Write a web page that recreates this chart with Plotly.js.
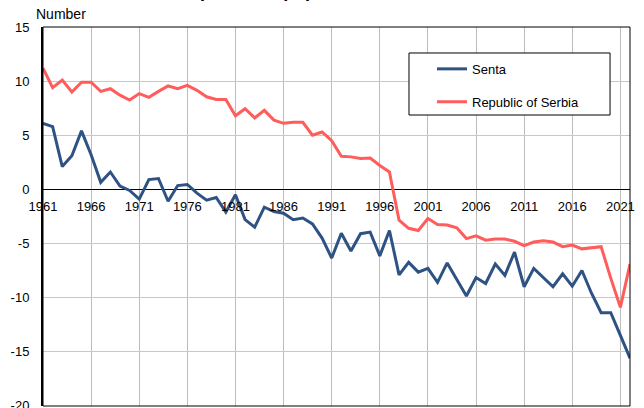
<!DOCTYPE html>
<html>
<head>
<meta charset="utf-8">
<script src="https://cdn.plot.ly/plotly-3.0.1.min.js"></script>
<style>html,body{margin:0;padding:0;background:#fff;}#chart{width:644px;height:408px;}</style>
</head>
<body>
<div id="chart"></div>
<script>
const years = [];
for (let y = 1961; y <= 2022; y++) years.push(y);

const senta = [
  6.1, 5.8, 2.1, 3.1, 5.4, 3.2, 0.65, 1.6, 0.3, -0.1,
  -0.9, 0.9, 1.0, -1.1, 0.35, 0.45, -0.35, -1.0, -0.75, -2.1,
  -0.5, -2.8, -3.5, -1.65, -2.05, -2.2, -2.8, -2.65, -3.2, -4.5,
  -6.35, -4.05, -5.7, -4.1, -3.95, -6.15, -3.8, -7.9, -6.75, -7.65,
  -7.3, -8.6, -6.8, -8.3, -9.85, -8.15, -8.7, -6.9, -7.95, -5.8,
  -9.0, -7.3, -8.15, -9.0, -7.8, -8.95, -7.5, -9.6, -11.4, -11.4,
  -13.5, -15.6
];

const serbia = [
  11.2, 9.4, 10.1, 9.0, 9.9, 9.9, 9.05, 9.3, 8.7, 8.25,
  8.85, 8.5, 9.05, 9.55, 9.3, 9.6, 9.15, 8.55, 8.3, 8.3,
  6.8, 7.45, 6.6, 7.3, 6.4, 6.1, 6.2, 6.2, 5.0, 5.3,
  4.5, 3.05, 3.0, 2.85, 2.9, 2.2, 1.6, -2.85, -3.6, -3.8,
  -2.7, -3.25, -3.3, -3.55, -4.55, -4.3, -4.7, -4.6, -4.6, -4.8,
  -5.2, -4.87, -4.75, -4.87, -5.3, -5.15, -5.5, -5.4, -5.3, -8.2,
  -10.9, -6.9
];

const seriesNames = ["Senta", "Republic of Serbia"];
const yTickVals = [-20, -15, -10, -5, 0, 5, 10, 15];
const yTickText = ["-20", "-15", "-10", "-5", "0", "5", "10", "15"];
const xTickVals = [1961, 1966, 1971, 1976, 1981, 1986, 1991, 1996, 2001, 2006, 2011, 2016, 2021];
const titleText = "Natural increase per 1,000 population, 1961–2022";
const yAxisLabel = "Number";

const FONT = "Liberation Sans, Arial, sans-serif";

const traces = [
  {x: years, y: senta, name: seriesNames[0], type: "scatter", mode: "lines",
   line: {color: "#2e5283", width: 3}, legendgroup: "a"},
  {x: years, y: serbia, name: seriesNames[1], type: "scatter", mode: "lines",
   line: {color: "#ff5c5c", width: 3}, legendgroup: "b"}
];

const layout = {
  width: 644, height: 408,
  margin: {l: 43, r: 14, t: 27, b: 2, pad: 0},
  paper_bgcolor: "#ffffff", plot_bgcolor: "#ffffff",
  font: {family: FONT, size: 13, color: "#000"},
  showlegend: true,
  legend: {
    x: 0.6627, y: 0.929, xanchor: "left", yanchor: "top",
    bgcolor: "rgba(0,0,0,0)", borderwidth: 0,
    traceorder: "grouped", tracegroupgap: 13,
    font: {family: FONT, size: 13, color: "#000"}
  },
  xaxis: {
    range: [1961, 2022], tickmode: "array", tickvals: xTickVals,
    anchor: "free", position: 0.573,
    showgrid: true, gridcolor: "#bcbcbc", gridwidth: 1,
    zeroline: false, showline: false,
    ticks: "outside", ticklen: 6, tickcolor: "rgba(0,0,0,0)",
    ticklabeloverflow: "allow",
    tickfont: {family: FONT, size: 13, color: "#000"}
  },
  yaxis: {
    range: [-20.02, 15], tickmode: "array", tickvals: yTickVals, ticktext: yTickText,
    showgrid: true, gridcolor: "#c8c8c8", gridwidth: 1,
    zeroline: true, zerolinecolor: "#000", zerolinewidth: 1,
    showline: true, linecolor: "#000", linewidth: 2,
    ticks: "outside", ticklen: 9, tickcolor: "rgba(0,0,0,0)",
    ticklabeloverflow: "allow",
    tickfont: {family: FONT, size: 13, color: "#000"}
  },
  shapes: [
    {type: "rect", xref: "paper", yref: "paper", x0: 0, x1: 1, y0: 0, y1: 1,
     line: {color: "#000", width: 1}, layer: "above"},
    {type: "rect", xref: "paper", yref: "paper", x0: 0.6235, x1: 0.966, y0: 0.7678, y1: 0.9314,
     line: {color: "#000", width: 1}, fillcolor: "#ffffff", layer: "above"}
  ],
  annotations: [
    {text: yAxisLabel, xref: "paper", yref: "paper", x: -0.015, y: 1.0,
     xanchor: "left", yanchor: "bottom", yshift: 3, showarrow: false,
     font: {family: FONT, size: 14, color: "#000"}},
    {text: "<b>" + titleText + "</b>", xref: "paper", yref: "paper", x: 0.017, y: 1.064,
     xanchor: "left", yanchor: "bottom", showarrow: false,
     font: {family: FONT, size: 18, color: "#000"}}
  ]
};

Plotly.newPlot("chart", traces, layout, {displayModeBar: false, staticPlot: true});
</script>
</body>
</html>
